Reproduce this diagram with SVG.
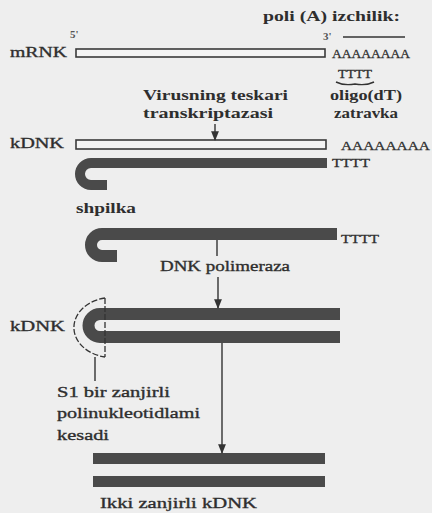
<svg xmlns="http://www.w3.org/2000/svg" width="432" height="513" viewBox="0 0 432 513">
<defs>
<style>
text{font-family:'Liberation Serif','DejaVu Serif','Noto Serif',serif;fill:#2e2e2e;}
.r{font-size:15px;stroke:#2e2e2e;stroke-width:0.35;}
.b{font-size:15px;font-weight:bold;}
.s{font-size:13.5px;stroke:#2e2e2e;stroke-width:0.3;}
.sup{font-size:11px;font-weight:bold;fill:#555;}
.open{fill:#f4f4f4;stroke:#3a3a3a;stroke-width:1.6;}
.dark{fill:none;stroke:#4a4a4a;stroke-linecap:butt;}
.bar{fill:#4a4a4a;}
.ln{stroke:#333;stroke-width:1.4;fill:none;}
.dash{stroke:#333;stroke-width:1.3;fill:none;stroke-dasharray:6 2;}
</style>
<marker id="ah" viewBox="0 0 10 10" refX="9" refY="5" markerWidth="7" markerHeight="7" orient="auto">
<path d="M0,1 L10,5 L0,9 Z" fill="#333"/>
</marker>
</defs>
<rect width="432" height="513" fill="#eeeeee"/>
<g font-family="Liberation Serif, DejaVu Serif, serif">
<g id="mrna">
<text class="r" x="10" y="57" textLength="57" lengthAdjust="spacingAndGlyphs">mRNK</text>
<rect class="open" x="76" y="49" width="249" height="8"/>
<text class="sup" x="70" y="38">5'</text>
<text class="sup" x="323" y="40">3'</text>
<text class="b" x="263" y="21" textLength="137" lengthAdjust="spacingAndGlyphs">poli (A) izchilik:</text>
<line class="ln" x1="343" y1="37" x2="405" y2="37"/>
<text class="s" x="332" y="58" textLength="78" lengthAdjust="spacingAndGlyphs">AAAAAAAA</text>
<text class="s" x="338" y="78" textLength="34" lengthAdjust="spacingAndGlyphs">TTTT</text>
<path class="ln" d="M336 82 Q344 86 355 84 Q366 86 374 82"/>
<text class="b" x="330" y="100" textLength="72" lengthAdjust="spacingAndGlyphs">oligo(dT)</text>
<text class="b" x="334" y="118" textLength="64" lengthAdjust="spacingAndGlyphs">zatravka</text>
</g>

<g id="rt-label">
<text class="b" x="143" y="100" textLength="145" lengthAdjust="spacingAndGlyphs">Virusning teskari</text>
<text class="b" x="143" y="118" textLength="130" lengthAdjust="spacingAndGlyphs">transkriptazasi</text>
</g>

<g id="kdna1">
<text class="r" x="10" y="148" textLength="54" lengthAdjust="spacingAndGlyphs">kDNK</text>
<rect class="open" x="76" y="140" width="250" height="9"/>
<text class="s" x="341" y="150" textLength="89" lengthAdjust="spacingAndGlyphs">AAAAAAAA</text>
<path class="dark" stroke-width="10" d="M327 163 H91 A11 11 0 0 0 91 185 H107"/>
<text class="s" x="332" y="167" textLength="38" lengthAdjust="spacingAndGlyphs">TTTT</text>
<text class="b" x="76" y="213" textLength="60" lengthAdjust="spacingAndGlyphs">shpilka</text>
</g>

<g id="hairpin2">
<path class="dark" stroke-width="12" d="M337 234 H102 A11 11 0 0 0 102 256 H117"/>
<text class="s" x="341" y="243" textLength="38" lengthAdjust="spacingAndGlyphs">TTTT</text>
<text class="r" x="160" y="271" textLength="130" lengthAdjust="spacingAndGlyphs">DNK polimeraza</text>
</g>

<g id="kdna2">
<text class="r" x="10" y="331" textLength="55" lengthAdjust="spacingAndGlyphs">kDNK</text>
<path class="dark" stroke-width="12" d="M340 314 H100 A11.5 11.5 0 0 0 100 337 H340"/>
<path class="dash" d="M105 298 A38 30 0 0 0 105 357"/>
<line class="dash" x1="105" y1="298" x2="105" y2="357"/>
<line class="ln" x1="95" y1="357" x2="95" y2="381"/>
<text class="r" x="57" y="397" textLength="113" lengthAdjust="spacingAndGlyphs">S1 bir zanjirli</text>
<text class="r" x="57" y="418" textLength="143" lengthAdjust="spacingAndGlyphs">polinukleotidlami</text>
<text class="r" x="57" y="440" textLength="52" lengthAdjust="spacingAndGlyphs">kesadi</text>
</g>

<g id="dsdna">
<rect class="bar" x="93" y="453" width="232" height="11"/>
<rect class="bar" x="93" y="476" width="232" height="11"/>
<text class="r" x="100" y="508" textLength="157" lengthAdjust="spacingAndGlyphs">Ikki zanjirli kDNK</text>
</g>

<g id="connectors">
<line class="ln" x1="215" y1="124" x2="215" y2="140" marker-end="url(#ah)"/>
<line class="ln" x1="217" y1="240" x2="217" y2="256"/>
<line class="ln" x1="218" y1="277" x2="218" y2="308" marker-end="url(#ah)"/>
<line class="ln" x1="222" y1="343" x2="222" y2="453" marker-end="url(#ah)"/>
</g>
</g>
</svg>
